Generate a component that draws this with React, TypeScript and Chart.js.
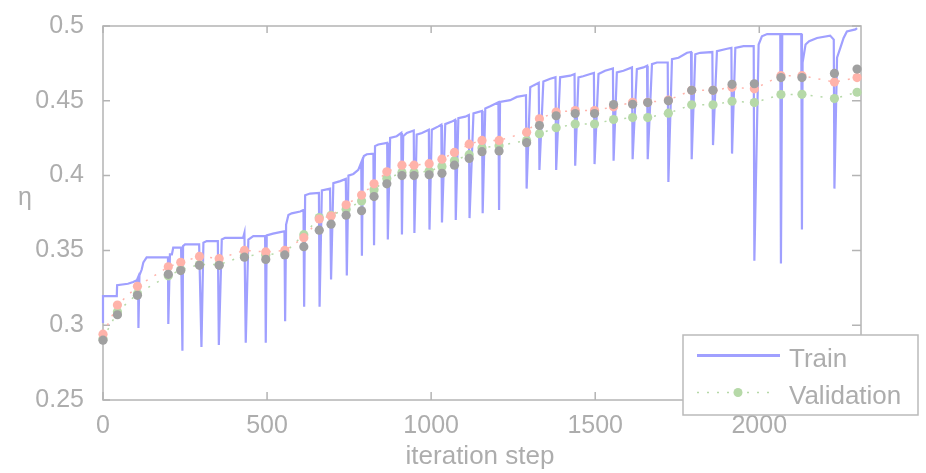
import React, { useEffect, useRef } from 'react';
import { Chart, registerables } from 'chart.js';

Chart.register(...registerables);

const xTicks = [0, 500, 1000, 1500, 2000];
const yTicks = [0.25, 0.3, 0.35, 0.4, 0.45, 0.5];

const evalSteps = [
  0, 44, 105, 199, 237, 294, 354, 431, 496, 554,
  612, 659, 695, 741, 788, 826, 865, 911, 948, 994,
  1033, 1071, 1116, 1155, 1207, 1291, 1330, 1381, 1439, 1498,
  1556, 1614, 1660, 1723, 1794, 1859, 1917, 1985, 2066, 2130,
  2229, 2298,
];

const validationEta = [
  0.291, 0.309, 0.321, 0.333, 0.337, 0.3405, 0.3405, 0.3465, 0.347, 0.3485,
  0.3605, 0.372, 0.3735, 0.3775, 0.383, 0.3905, 0.398, 0.402, 0.402, 0.403,
  0.406, 0.41, 0.414, 0.4185, 0.42, 0.4235, 0.428, 0.432, 0.4345, 0.4345,
  0.4375, 0.4388, 0.4388, 0.4417, 0.4473, 0.4473, 0.4497, 0.4488, 0.4542, 0.4543,
  0.4515, 0.4557,
];

const pinkEta = [
  0.294, 0.3135, 0.326, 0.339, 0.342, 0.346, 0.3445, 0.35, 0.349, 0.35,
  0.3585, 0.371, 0.373, 0.3805, 0.387, 0.3945, 0.4025, 0.407, 0.407, 0.408,
  0.411, 0.4155, 0.421, 0.4235, 0.4235, 0.429, 0.438, 0.4425, 0.4435, 0.4435,
  0.446, 0.449, 0.449, 0.4505, 0.457, 0.457, 0.459, 0.458, 0.4668, 0.4668,
  0.4625, 0.4655,
];

const grayEta = [
  0.29, 0.307, 0.32, 0.334, 0.3365, 0.34, 0.34, 0.3455, 0.344, 0.347,
  0.3525, 0.3635, 0.3675, 0.3735, 0.3765, 0.386, 0.3945, 0.4, 0.4, 0.4005,
  0.4015, 0.407, 0.4115, 0.416, 0.4165, 0.422, 0.4335, 0.44, 0.4415, 0.4415,
  0.4475, 0.4477, 0.4488, 0.45, 0.457, 0.457, 0.461, 0.4614, 0.4655, 0.4655,
  0.4683, 0.4712,
];

const trainSteps = [
  0, 0, 42, 43, 76, 92, 103, 107, 108, 111,
  118, 123, 133, 198, 199, 204, 210, 214, 238, 242,
  244, 250, 293, 300, 306, 316, 350, 353, 362, 372,
  427, 431, 435, 443, 458, 494, 496, 499, 518, 540,
  553, 555, 558, 565, 575, 601, 611, 613, 616, 631,
  658, 660, 667, 692, 695, 702, 723, 740, 743, 748,
  763, 778, 787, 789, 792, 795, 804, 824, 826, 829,
  839, 866, 868, 875, 895, 909, 911, 915, 926, 947,
  949, 956, 972, 993, 995, 1002, 1022, 1031, 1033, 1043,
  1063, 1073, 1075, 1083, 1104, 1115, 1117, 1129, 1155, 1157,
  1165, 1180, 1205, 1207, 1210, 1241, 1261, 1289, 1291, 1302,
  1312, 1328, 1330, 1342, 1363, 1379, 1381, 1393, 1424, 1437,
  1439, 1449, 1463, 1485, 1496, 1498, 1510, 1530, 1554, 1556,
  1566, 1586, 1612, 1614, 1627, 1647, 1658, 1660, 1673, 1688,
  1721, 1723, 1734, 1754, 1780, 1792, 1794, 1805, 1820, 1857,
  1859, 1871, 1902, 1915, 1917, 1927, 1952, 1983, 1985, 1998,
  2008, 2024, 2064, 2066, 2070, 2128, 2130, 2132, 2141, 2152,
  2176, 2216, 2227, 2229, 2237, 2247, 2257, 2267, 2293, 2298,
];

const trainEta = [
  0.3015, 0.3195, 0.3195, 0.3267, 0.3277, 0.3289, 0.33, 0.3321, 0.2982, 0.3333,
  0.3372, 0.342, 0.3453, 0.3453, 0.3008, 0.3474, 0.3474, 0.3518, 0.3518, 0.2829,
  0.3529, 0.354, 0.354, 0.2855, 0.3551, 0.3562, 0.3562, 0.2868, 0.3573, 0.3584,
  0.3584, 0.3617, 0.2883, 0.3573, 0.3595, 0.3595, 0.2883, 0.36, 0.3612, 0.3622,
  0.3628, 0.3026, 0.3672, 0.3737, 0.3748, 0.376, 0.377, 0.3124, 0.3869, 0.388,
  0.3884, 0.3124, 0.3901, 0.3913, 0.3306, 0.395, 0.3963, 0.3978, 0.3333, 0.4,
  0.4011, 0.4038, 0.4088, 0.3464, 0.411, 0.4131, 0.4143, 0.4147, 0.3534, 0.4197,
  0.4208, 0.4219, 0.3573, 0.4252, 0.4263, 0.4285, 0.3606, 0.4263, 0.4285, 0.4301,
  0.3617, 0.4274, 0.4285, 0.4307, 0.3639, 0.4307, 0.4329, 0.434, 0.3687, 0.4344,
  0.4361, 0.4373, 0.3704, 0.4384, 0.4394, 0.4405, 0.3716, 0.4416, 0.4432, 0.3748,
  0.4449, 0.4463, 0.449, 0.377, 0.4493, 0.4504, 0.4526, 0.4537, 0.3913, 0.4591,
  0.4603, 0.462, 0.4038, 0.4629, 0.4647, 0.4657, 0.4038, 0.4657, 0.4668, 0.4679,
  0.4066, 0.4657, 0.4664, 0.4679, 0.4686, 0.4077, 0.4679, 0.4701, 0.4716, 0.4099,
  0.469, 0.4701, 0.4723, 0.411, 0.4712, 0.4723, 0.4734, 0.411, 0.4745, 0.4756,
  0.4756, 0.3957, 0.4778, 0.4788, 0.4821, 0.4826, 0.411, 0.4811, 0.4821, 0.4826,
  0.4204, 0.4832, 0.4848, 0.4854, 0.4147, 0.4854, 0.4865, 0.4865, 0.3431, 0.4876,
  0.4931, 0.4946, 0.4946, 0.3413, 0.4946, 0.4946, 0.3639, 0.4756, 0.4876, 0.4898,
  0.492, 0.4936, 0.4909, 0.3913, 0.4788, 0.4854, 0.492, 0.4964, 0.4977, 0.4986,
];

const xTitle = 'iteration step';
const yTitle = 'η';
const legendLabels = ['Train', 'Validation'];

const FONT = "'Liberation Sans', Arial, sans-serif";
const TEXT = '#adadad';
const FRAME = '#b4b4b4';
const BLUE = '#a0a0ff';
const GREEN = '#b6d9a8';
const PINK = '#ffb3aa';
const GRAY = '#a0a0a0';

const framePlugin = {
  id: 'framePlugin',
  beforeDatasetsDraw(chart: any) {
    const { ctx, chartArea, scales } = chart;
    const { left, right, top, bottom } = chartArea;
    ctx.save();
    ctx.strokeStyle = FRAME;
    ctx.lineWidth = 1.5;
    ctx.strokeRect(left, top, right - left, bottom - top);
    ctx.beginPath();
    xTicks.forEach((v) => {
      const px = scales.x.getPixelForValue(v);
      ctx.moveTo(px, bottom);
      ctx.lineTo(px, bottom - 8);
      ctx.moveTo(px, top);
      ctx.lineTo(px, top + 7);
    });
    yTicks.forEach((v) => {
      const py = scales.y.getPixelForValue(v);
      ctx.moveTo(left, py);
      ctx.lineTo(left + 7, py);
      ctx.moveTo(right, py);
      ctx.lineTo(right - 9, py);
    });
    ctx.stroke();
    ctx.restore();
  },
  afterDraw(chart: any) {
    const { ctx, chartArea } = chart;
    const { left, right } = chartArea;
    ctx.save();
    ctx.fillStyle = TEXT;
    ctx.font = `26px ${FONT}`;
    ctx.textAlign = 'center';
    ctx.textBaseline = 'alphabetic';
    ctx.fillText(xTitle, (left + right) / 2 - 2, 464);
    ctx.font = `25px ${FONT}`;
    ctx.fillText(yTitle, 25, 205);

    // legend
    const bx = 683, by = 335, bw = 235, bh = 80;
    ctx.fillStyle = '#ffffff';
    ctx.fillRect(bx, by, bw, bh);
    ctx.strokeStyle = '#bababa';
    ctx.lineWidth = 1.5;
    ctx.strokeRect(bx, by, bw, bh);

    ctx.strokeStyle = BLUE;
    ctx.lineWidth = 3;
    ctx.beginPath();
    ctx.moveTo(697, 355.5);
    ctx.lineTo(780, 355.5);
    ctx.stroke();

    ctx.strokeStyle = GREEN;
    ctx.lineWidth = 1.5;
    ctx.setLineDash([2, 8]);
    ctx.beginPath();
    ctx.moveTo(697, 392.5);
    ctx.lineTo(774, 392.5);
    ctx.stroke();
    ctx.setLineDash([]);
    ctx.fillStyle = GREEN;
    ctx.beginPath();
    ctx.arc(738, 392.5, 4.5, 0, Math.PI * 2);
    ctx.fill();

    ctx.fillStyle = TEXT;
    ctx.font = `26px ${FONT}`;
    ctx.textAlign = 'left';
    ctx.fillText(legendLabels[0], 789, 367);
    ctx.fillText(legendLabels[1], 789, 404);
    ctx.restore();
  },
};

export default function App() {
  const canvasRef = useRef<HTMLCanvasElement | null>(null);

  useEffect(() => {
    if (!canvasRef.current) return;
    const pointDs = (label: string, values: number[], color: string, order: number, dashed: boolean) => ({
      label,
      data: evalSteps.map((x, i) => ({ x, y: values[i] })),
      showLine: dashed,
      borderColor: color,
      borderWidth: 1.5,
      borderDash: [2, 8],
      backgroundColor: color,
      pointBackgroundColor: color,
      pointBorderWidth: 0,
      pointRadius: 4.6,
      order,
      clip: 12,
    });
    const chart = new Chart(canvasRef.current, {
      type: 'scatter',
      data: {
        datasets: [
          {
            label: legendLabels[0],
            data: trainSteps.map((x, i) => ({ x, y: trainEta[i] })),
            showLine: true,
            borderColor: BLUE,
            borderWidth: 2.2,
            pointRadius: 0,
            tension: 0,
            order: 4,
            clip: 4,
          } as any,
          pointDs(legendLabels[1], validationEta, GREEN, 3, true),
          pointDs('pink', pinkEta, PINK, 2, true),
          pointDs('gray', grayEta, GRAY, 1, false),
        ],
      },
      options: {
        animation: false,
        responsive: false,
        devicePixelRatio: 1,
        layout: { padding: { top: 19, right: 65, left: 0, bottom: 0 } },
        plugins: { legend: { display: false }, tooltip: { enabled: false } },
        scales: {
          x: {
            type: 'linear',
            min: 0,
            max: 2310,
            border: { display: false },
            grid: { display: false },
            afterBuildTicks: (s: any) => {
              s.ticks = xTicks.map((value) => ({ value }));
            },
            afterFit: (s: any) => {
              s.height = 73;
            },
            ticks: {
              color: TEXT,
              font: { family: FONT, size: 25 },
              padding: 3,
              callback: (v: any) => String(v),
            },
          },
          y: {
            type: 'linear',
            min: 0.25,
            max: 0.5,
            border: { display: false },
            grid: { display: false },
            afterBuildTicks: (s: any) => {
              s.ticks = yTicks.map((value) => ({ value }));
            },
            afterFit: (s: any) => {
              s.width = 103;
            },
            ticks: {
              color: TEXT,
              font: { family: FONT, size: 25 },
              padding: 11,
              callback: (v: any) => String(v),
            },
          },
        },
      },
      plugins: [framePlugin],
    } as any);
    return () => chart.destroy();
  }, []);

  return (
    <div style={{ position: 'fixed', left: 0, top: 0, width: 926, height: 473, background: '#fff' }}>
      <canvas ref={canvasRef} width={926} height={473} style={{ display: 'block' }} />
    </div>
  );
}
